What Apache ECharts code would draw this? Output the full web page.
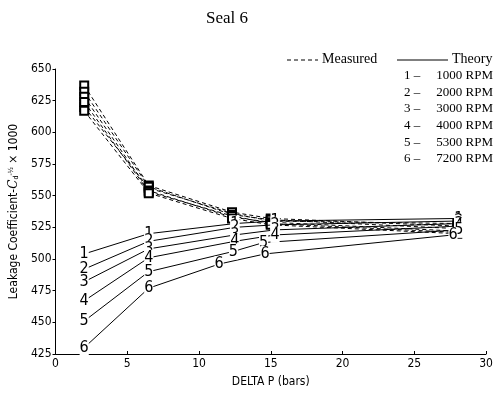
<!DOCTYPE html>
<html>
<head>
<meta charset="utf-8">
<script src="https://cdn.jsdelivr.net/npm/echarts@6/dist/echarts.min.js"></script>
<style>
  html, body { margin: 0; padding: 0; background: #fff; }
  #main { width: 497px; height: 393px; }
</style>
</head>
<body>
<div id="main"></div>
<script>
// speeds (legend rows)
var rpmNames = ["1000 RPM", "2000 RPM", "3000 RPM", "4000 RPM", "5300 RPM", "7200 RPM"];
var xTicks = [0, 5, 10, 15, 20, 25, 30];
var yTicks = [425, 450, 475, 500, 525, 550, 575, 600, 625, 650];

// measured (dashed) - delta P and coefficient
var measX = [2, 6.5, 12.3, 15, 28];
var meas1 = [620, 556, 536, 530, 528];
var meas2 = [637, 558, 537, 532, 526];
var meas3 = [632, 557, 535, 531, 524];
var meas4 = [628, 554, 533, 529, 522];
var meas5 = [624, 553, 534, 528, 521];
var meas6 = [617, 552, 532, 527, 520];

// theory (solid)
var theoX1 = [2, 6.5, 12.5, 15.3, 28.1];
var theoX5 = [2, 6.5, 12.4, 14.5, 28.1];
var theoX6 = [2, 6.5, 11.4, 14.6, 27.7];
var theo1 = [504, 520, 528, 530, 532];
var theo2 = [492, 514, 525, 527, 530];
var theo3 = [482, 508, 519, 523, 528];
var theo4 = [467, 501, 514, 519, 526];
var theo5 = [451, 490, 506, 513, 523];
var theo6 = [430, 477, 496, 504, 519];

var myChart = echarts.init(document.getElementById("main"));

function pairs(xs, ys) {
  return xs.map(function (x, i) { return [x, ys[i]]; });
}

function measSeries(n, ys) {
  return {
    type: "line",
    data: pairs(measX, ys),
    symbol: "emptyRect",
    symbolSize: 8,
    lineStyle: { color: "#000", width: 1, type: [4, 3] },
    itemStyle: { color: "#000", borderWidth: 1 },
    label: { show: false },
    z: 2
  };
}

function theoSeries(n, xs, ys) {
  return {
    type: "line",
    data: pairs(xs, ys),
    symbol: "rect",
    symbolSize: 1,
    lineStyle: { color: "#000", width: 1 },
    itemStyle: { color: "#000" },
    label: {
      show: true,
      position: "inside",
      formatter: String(n),
      color: "#000",
      fontSize: 16,
      fontFamily: "DejaVu Sans Condensed",
      backgroundColor: "#fff",
      padding: [0, 0]
    },
    z: 3
  };
}

var legendFont = "13px 'Liberation Serif'";
var graphics = [
  {
    type: "line",
    shape: { x1: 287, y1: 60, x2: 318, y2: 60 },
    style: { stroke: "#000", lineWidth: 1, lineDash: [4, 3] }
  },
  {
    type: "text", left: 322, top: 52,
    style: { text: "Measured", font: "14px 'Liberation Serif'", fill: "#000" }
  },
  {
    type: "line",
    shape: { x1: 397, y1: 60, x2: 448, y2: 60 },
    style: { stroke: "#000", lineWidth: 1 }
  },
  {
    type: "text", left: 452, top: 52,
    style: { text: "Theory", font: "14px 'Liberation Serif'", fill: "#000" }
  }
];
var rowY = [76, 93, 109, 126, 143, 159];
rpmNames.forEach(function (name, i) {
  graphics.push({
    type: "text", left: 404, top: rowY[i] - 7,
    style: { text: (i + 1) + " \u2013", font: legendFont, fill: "#000" }
  });
  graphics.push({
    type: "text", right: 4, top: rowY[i] - 7,
    style: { text: name, font: legendFont, fill: "#000" }
  });
});

var option = {
  backgroundColor: "#fff",
  animation: false,
  title: {
    text: "Seal 6",
    left: 201,
    top: 5,
    textStyle: { fontFamily: "Liberation Serif", fontSize: 17, fontWeight: "normal", color: "#000" }
  },
  grid: { left: 55, right: 11, top: 69, bottom: 38 },
  xAxis: {
    type: "value",
    min: xTicks[0],
    max: xTicks[xTicks.length - 1],
    interval: 5,
    name: "DELTA P (bars)",
    nameLocation: "middle",
    nameGap: 22,
    nameTextStyle: { fontFamily: "DejaVu Sans Condensed", fontSize: 12, color: "#000" },
    axisLine: { lineStyle: { color: "#000", width: 1 } },
    axisTick: { inside: true, length: 3, lineStyle: { color: "#000" } },
    axisLabel: { color: "#000", fontFamily: "DejaVu Sans Condensed", fontSize: 12, margin: 4 },
    splitLine: { show: false }
  },
  yAxis: {
    type: "value",
    min: yTicks[0],
    max: yTicks[yTicks.length - 1],
    interval: 25,
    name: "Leakage Coefficient-{c|C}{s|d}{p|-\u00bd} \u00d7 1000",
    nameLocation: "middle",
    nameGap: 35,
    nameRotate: 90,
    nameTextStyle: {
      fontFamily: "DejaVu Sans Condensed", fontSize: 12, color: "#000",
      rich: {
        c: { fontFamily: "DejaVu Serif", fontStyle: "italic", fontSize: 12, color: "#000" },
        s: { fontSize: 7, verticalAlign: "bottom", color: "#000" },
        p: { fontSize: 7, verticalAlign: "top", color: "#000" }
      }
    },
    axisLine: { show: true, lineStyle: { color: "#000", width: 1 } },
    axisTick: { show: true, length: 3, lineStyle: { color: "#000" } },
    axisLabel: { color: "#000", fontFamily: "DejaVu Sans Condensed", fontSize: 12, margin: 4 },
    splitLine: { show: false }
  },
  graphic: graphics,
  series: [
    measSeries(1, meas1),
    measSeries(2, meas2),
    measSeries(3, meas3),
    measSeries(4, meas4),
    measSeries(5, meas5),
    measSeries(6, meas6),
    theoSeries(1, theoX1, theo1),
    theoSeries(2, theoX1, theo2),
    theoSeries(3, theoX1, theo3),
    theoSeries(4, theoX1, theo4),
    theoSeries(5, theoX5, theo5),
    theoSeries(6, theoX6, theo6)
  ]
};

myChart.setOption(option);
</script>
</body>
</html>
